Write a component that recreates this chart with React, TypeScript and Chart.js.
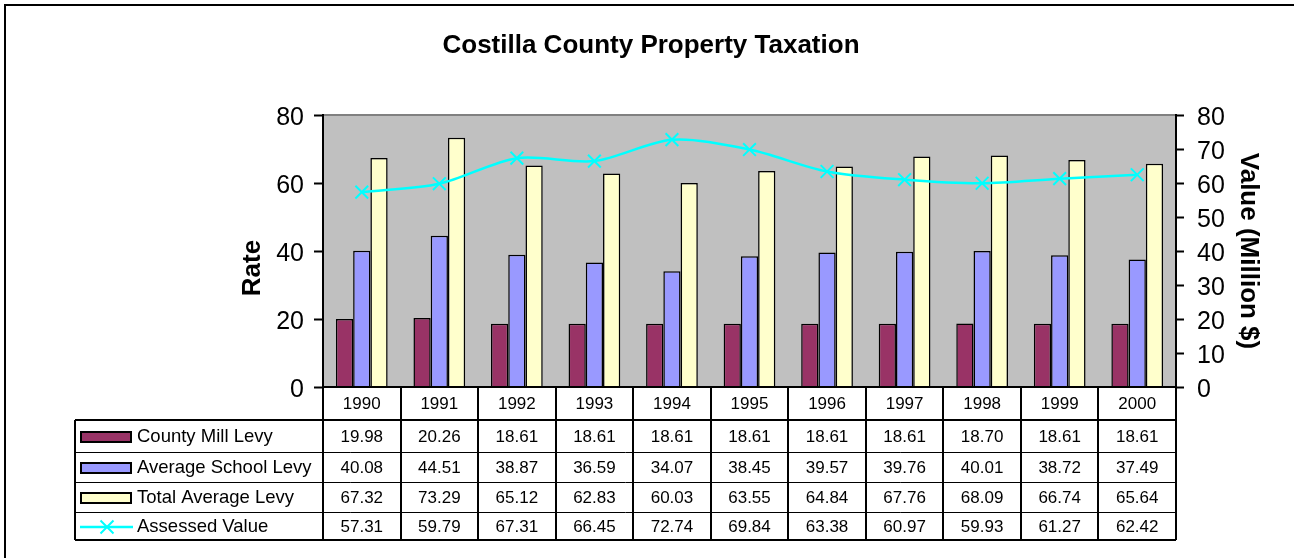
import React, { useEffect, useRef } from "react";
import { Chart, registerables } from "chart.js";

Chart.register(...registerables);

const chartTitle = "Costilla County Property Taxation";
const years = ["1990", "1991", "1992", "1993", "1994", "1995", "1996", "1997", "1998", "1999", "2000"];
const countyMillLevy = [19.98, 20.26, 18.61, 18.61, 18.61, 18.61, 18.61, 18.61, 18.7, 18.61, 18.61];
const averageSchoolLevy = [40.08, 44.51, 38.87, 36.59, 34.07, 38.45, 39.57, 39.76, 40.01, 38.72, 37.49];
const totalAverageLevy = [67.32, 73.29, 65.12, 62.83, 60.03, 63.55, 64.84, 67.76, 68.09, 66.74, 65.64];
const assessedValue = [57.31, 59.79, 67.31, 66.45, 72.74, 69.84, 63.38, 60.97, 59.93, 61.27, 62.42];
const seriesNames = ["County Mill Levy", "Average School Levy", "Total Average Levy", "Assessed Value"];
const leftAxisTitle = "Rate";
const rightAxisTitle = "Value (Million $)";

const W = 1294;
const H = 558;
const FONT = "'Liberation Sans', Arial, sans-serif";
const colors = ["#993366", "#9999FF", "#FFFFCC", "#00FFFF"];

const tablePlugin = {
  id: "excelTable",
  beforeDraw(chart: any) {
    const ctx = chart.ctx;
    const ca = chart.chartArea;
    ctx.save();
    ctx.fillStyle = "#ffffff";
    ctx.fillRect(0, 0, W, H);
    ctx.strokeStyle = "#000";
    ctx.lineWidth = 2;
    ctx.strokeRect(5, 5, W + 20, H + 20);
    ctx.fillStyle = "#000";
    ctx.font = `bold 26px ${FONT}`;
    ctx.textAlign = "center";
    ctx.textBaseline = "middle";
    ctx.fillText(chartTitle, 651, 46);
    ctx.save();
    ctx.translate(253, 268);
    ctx.rotate(-Math.PI / 2);
    ctx.fillText(leftAxisTitle, 0, 0);
    ctx.restore();
    ctx.fillStyle = "#C0C0C0";
    ctx.fillRect(ca.left, ca.top, ca.right - ca.left, ca.bottom - ca.top);
    ctx.strokeStyle = "#808080";
    ctx.lineWidth = 2;
    ctx.beginPath();
    ctx.moveTo(ca.left, ca.top);
    ctx.lineTo(ca.right, ca.top);
    ctx.stroke();
    ctx.restore();
  },
  afterDraw(chart: any) {
    const ctx = chart.ctx;
    const ca = chart.chartArea;
    const xs = chart.scales.x;
    const n = years.length;
    const band = (ca.right - ca.left) / n;
    const tableLeft = 75;
    const rows = [420, 452, 482, 512, 540];
    const rowData = [countyMillLevy, averageSchoolLevy, totalAverageLevy, assessedValue];
    ctx.save();
    ctx.strokeStyle = "#000";
    ctx.lineWidth = 2;
    ctx.beginPath();
    ctx.moveTo(ca.left, ca.bottom);
    ctx.lineTo(ca.right, ca.bottom);
    ctx.stroke();
    for (let i = 0; i <= n; i++) {
      const x = Math.round(ca.left + i * band);
      ctx.beginPath();
      ctx.moveTo(x, ca.bottom);
      ctx.lineTo(x, rows[4]);
      ctx.stroke();
    }
    ctx.beginPath();
    ctx.moveTo(tableLeft, rows[0]);
    ctx.lineTo(tableLeft, rows[4]);
    ctx.stroke();
    rows.forEach((y, i) => {
      const thick = i === 0 || i === 4;
      ctx.lineWidth = thick ? 2 : 1;
      ctx.beginPath();
      ctx.moveTo(tableLeft, y + (thick ? 0 : 0.5));
      ctx.lineTo(ca.right, y + (thick ? 0 : 0.5));
      ctx.stroke();
    });
    ctx.fillStyle = "#000";
    ctx.textAlign = "center";
    ctx.textBaseline = "middle";
    ctx.font = `17px ${FONT}`;
    years.forEach((yr, i) => {
      ctx.fillText(yr, xs.getPixelForValue(i), (ca.bottom + rows[0]) / 2 + 1);
    });
    rowData.forEach((arr, r) => {
      const cy = (rows[r] + rows[r + 1]) / 2 + 1;
      arr.forEach((v, i) => {
        ctx.fillText(v.toFixed(2), xs.getPixelForValue(i), cy);
      });
    });
    ctx.textAlign = "left";
    ctx.font = `18.5px ${FONT}`;
    seriesNames.forEach((name, r) => {
      const cy = (rows[r] + rows[r + 1]) / 2 + 1;
      if (r < 3) {
        ctx.fillStyle = colors[r];
        ctx.fillRect(81, cy - 5, 50, 10);
        ctx.lineWidth = 2;
        ctx.strokeStyle = "#000";
        ctx.strokeRect(81, cy - 5, 50, 10);
      } else {
        ctx.strokeStyle = colors[3];
        ctx.lineWidth = 2.5;
        ctx.beginPath();
        ctx.moveTo(80, cy);
        ctx.lineTo(133, cy);
        ctx.stroke();
        ctx.lineWidth = 2;
        const d = 6.5;
        ctx.beginPath();
        ctx.moveTo(107 - d, cy - d);
        ctx.lineTo(107 + d, cy + d);
        ctx.moveTo(107 - d, cy + d);
        ctx.lineTo(107 + d, cy - d);
        ctx.stroke();
      }
      ctx.fillStyle = "#000";
      ctx.fillText(name, 137, cy);
    });
    ctx.restore();
  },
};

export default function App() {
  const ref = useRef<HTMLCanvasElement | null>(null);
  useEffect(() => {
    if (!ref.current) return;
    const chart = new Chart(ref.current, {
      type: "bar",
      data: {
        labels: years,
        datasets: [
          {
            type: "line",
            label: seriesNames[3],
            data: assessedValue,
            yAxisID: "y1",
            borderColor: colors[3],
            backgroundColor: colors[3],
            borderWidth: 2.5,
            pointStyle: "crossRot",
            pointRadius: 9,
            pointBorderWidth: 2,
            pointBorderColor: colors[3],
            tension: 0.3,
            order: 0,
          } as any,
          {
            label: seriesNames[0],
            data: countyMillLevy,
            yAxisID: "y",
            backgroundColor: colors[0],
            borderColor: "#000",
            borderWidth: 1.5,
            order: 1,
          },
          {
            label: seriesNames[1],
            data: averageSchoolLevy,
            yAxisID: "y",
            backgroundColor: colors[1],
            borderColor: "#000",
            borderWidth: 1.5,
            order: 1,
          },
          {
            label: seriesNames[2],
            data: totalAverageLevy,
            yAxisID: "y",
            backgroundColor: colors[2],
            borderColor: "#000",
            borderWidth: 1.5,
            order: 1,
          },
        ],
      },
      options: {
        animation: false,
        responsive: false,
        maintainAspectRatio: false,
        datasets: { bar: { categoryPercentage: 0.667, barPercentage: 1 } },
        layout: { padding: { left: 0, right: 0, top: 115, bottom: 171 } },
        plugins: { legend: { display: false }, tooltip: { enabled: false }, title: { display: false } },
        scales: {
          x: { display: false, offset: true },
          y: {
            position: "left",
            min: 0,
            max: 80,
            ticks: { stepSize: 20, color: "#000", font: { family: FONT, size: 25 }, padding: 10, labelOffset: 3 },
            grid: { drawOnChartArea: false, drawTicks: true, tickLength: 9, tickColor: "#000", tickWidth: 2, color: "#000" },
            border: { display: true, color: "#000", width: 2 },
            title: { display: false, text: leftAxisTitle },
            afterFit(s: any) { s.width = 323; },
          },
          y1: {
            position: "right",
            min: 0,
            max: 80,
            ticks: { stepSize: 10, color: "#000", font: { family: FONT, size: 25 }, padding: 13, labelOffset: 3 },
            grid: { drawOnChartArea: false, drawTicks: true, tickLength: 8, tickColor: "#000", tickWidth: 2, color: "#000" },
            border: { display: true, color: "#000", width: 2 },
            title: {
              display: true,
              text: rightAxisTitle,
              color: "#000",
              font: { family: FONT, size: 26, weight: "bold", lineHeight: 1 },
              padding: { top: 33, bottom: 0 },
            },
            afterFit(s: any) { s.width = 118; },
          },
        },
      } as any,
      plugins: [tablePlugin],
    });
    return () => chart.destroy();
  }, []);
  return (
    <div style={{ position: "fixed", left: 0, top: 0, width: W, height: H, background: "#fff" }}>
      <canvas ref={ref} width={W} height={H} style={{ display: "block", width: W, height: H }} />
    </div>
  );
}
